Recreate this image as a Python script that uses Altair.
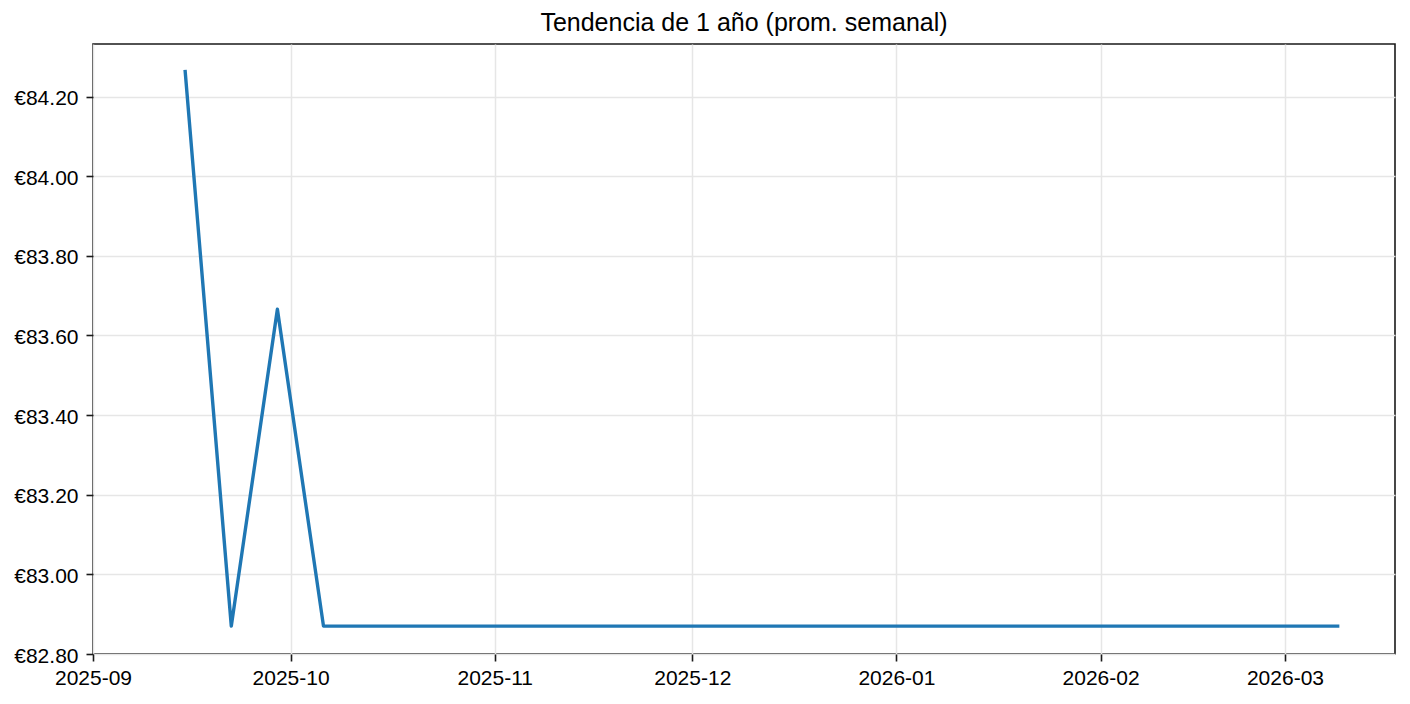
import altair as alt
import pandas as pd

weeks = [
    "2025-09-15", "2025-09-22", "2025-09-29", "2025-10-06", "2025-10-13",
    "2025-10-20", "2025-10-27", "2025-11-03", "2025-11-10", "2025-11-17",
    "2025-11-24", "2025-12-01", "2025-12-08", "2025-12-15", "2025-12-22",
    "2025-12-29", "2026-01-05", "2026-01-12", "2026-01-19", "2026-01-26",
    "2026-02-02", "2026-02-09", "2026-02-16", "2026-02-23", "2026-03-02",
    "2026-03-09",
]
prices = [
    84.2625, 82.87, 83.666, 82.87, 82.87,
    82.87, 82.87, 82.87, 82.87, 82.87,
    82.87, 82.87, 82.87, 82.87, 82.87,
    82.87, 82.87, 82.87, 82.87, 82.87,
    82.87, 82.87, 82.87, 82.87, 82.87,
    82.87,
]
y_ticks = [82.8, 83.0, 83.2, 83.4, 83.6, 83.8, 84.0, 84.2]
month_ticks = [(2025, 9), (2025, 10), (2025, 11), (2025, 12), (2026, 1), (2026, 2), (2026, 3)]
title_text = "Tendencia de 1 año (prom. semanal)"

df = pd.DataFrame({"week": [w + "T00:00:00" for w in weeks], "price": prices})
title_df = pd.DataFrame({"t": [title_text]})

FONT = "Liberation Sans"
W, H = 1302, 610

x_enc = alt.X(
    "week:T",
    title=None,
    scale=alt.Scale(
        domain=[
            alt.DateTime(year=2025, month=9, date=1),
            alt.DateTime(year=2026, month=3, date=17, hours=17),
        ],
        nice=False,
    ),
    axis=alt.Axis(
        values=[alt.DateTime(year=y, month=m, date=1) for y, m in month_ticks],
        format="%Y-%m",
        labelFlush=False,
        labelOverlap=False,
        labelPadding=6,
    ),
)
y_enc = alt.Y(
    "price:Q",
    title=None,
    scale=alt.Scale(domain=[82.8, 84.332], nice=False, zero=False),
    axis=alt.Axis(
        values=y_ticks,
        labelExpr="'€' + format(datum.value, '.2f')",
        labelFlush=False,
        labelOverlap=False,
        labelPadding=8,
        labelOffset=2,
    ),
)

line = (
    alt.Chart(df)
    .mark_line(color="#1f77b4", strokeWidth=3.4, strokeCap="square", strokeJoin="round")
    .encode(x=x_enc, y=y_enc)
)

title = (
    alt.Chart(title_df)
    .mark_text(
        font=FONT,
        fontSize=25,
        color="black",
        align="center",
        baseline="alphabetic",
    )
    .encode(text="t:N", x=alt.value(W / 2), y=alt.value(-13))
)

chart = (
    alt.layer(line, title)
    .properties(
        width=W,
        height=H,
        autosize=alt.AutoSizeParams(type="none"),
        padding={"left": 85, "top": 36, "right": 5, "bottom": 37},
    )
    .configure_view(stroke="#1a1a1a", strokeWidth=1.6)
    .configure_axis(
        domain=False,
        grid=True,
        gridColor="#e6e6e6",
        gridWidth=1.5,
        ticks=True,
        tickColor="#1a1a1a",
        tickWidth=1.6,
        tickSize=7,
        labelFont=FONT,
        labelFontSize=21,
        labelColor="black",
    )
)

chart.save("out.html", embed_options={"renderer": "svg", "actions": False})
